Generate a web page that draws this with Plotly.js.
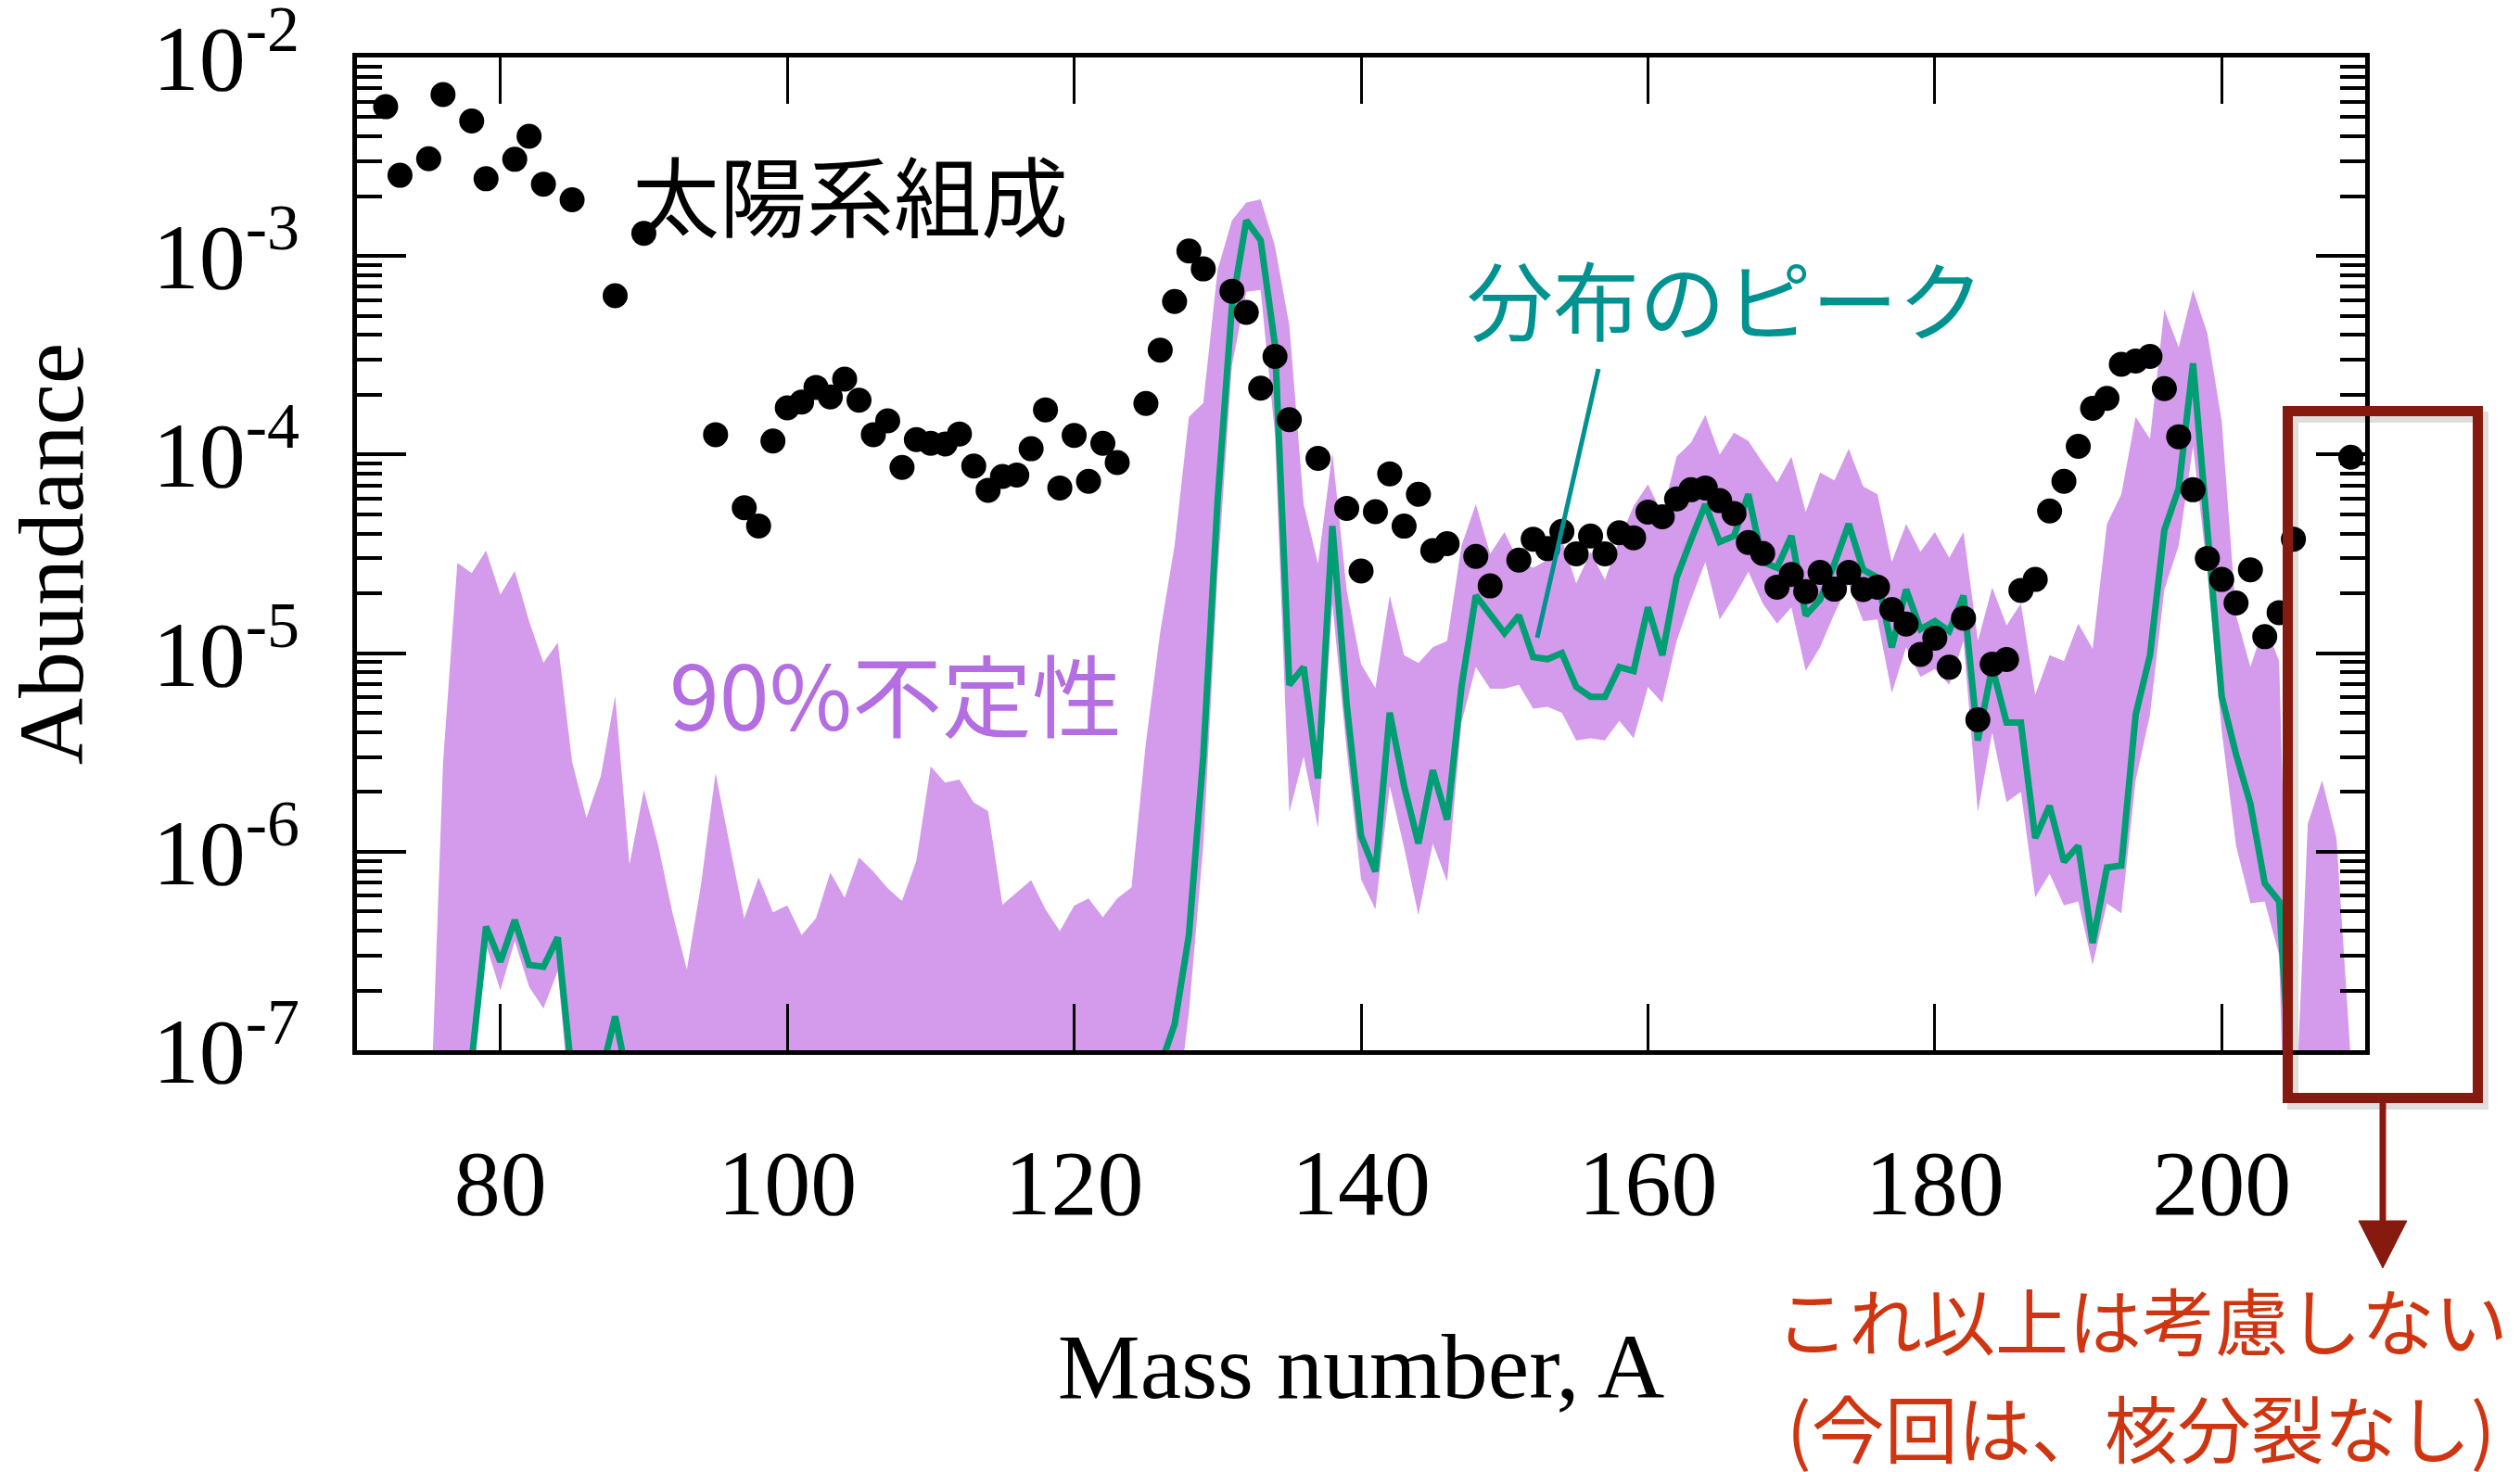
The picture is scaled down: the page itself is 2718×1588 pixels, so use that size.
<!DOCTYPE html>
<html>
<head>
<meta charset="utf-8">
<script src="https://cdn.plot.ly/plotly-3.0.1.min.js"></script>
<style>
html,body{margin:0;padding:0;background:#ffffff;}
#chart{width:2718px;height:1588px;}
</style>
</head>
<body>
<div id="chart"></div>
<script>
// ---------------- DATA ----------------
// Solar-system abundances (black dots)
const SOLAR_A = [72,73,75,76,78,79,81,82,83,85,88,90,95,97,98,99,100,101,102,103,104,105,106,107,108,109,110,111,112,113,114,115,116,117,118,119,120,121,122,123,125,126,127,128,129,131,132,133,134,135,137,139,140,141,142,143,144,145,146,148,149,151,152,153,154,155,156,157,158,159,160,161,162,163,164,165,166,167,168,169,170,171,172,173,174,175,176,177,178,179,180,181,182,183,184,185,186,187,188,189,190,191,192,193,194,195,196,197,198,199,200,201,202,203,204,205,209];
const SOLAR_Y = [5.65e-3,2.55e-3,3.09e-3,6.50e-3,4.79e-3,2.45e-3,3.07e-3,4.01e-3,2.30e-3,1.92e-3,6.31e-4,1.30e-3,1.26e-4,5.40e-5,4.37e-5,1.17e-4,1.72e-4,1.84e-4,2.18e-4,1.95e-4,2.40e-4,1.88e-4,1.26e-4,1.48e-4,8.61e-5,1.19e-4,1.14e-4,1.13e-4,1.27e-4,8.75e-5,6.61e-5,7.76e-5,7.89e-5,1.07e-4,1.68e-4,6.79e-5,1.25e-4,7.33e-5,1.14e-4,9.12e-5,1.81e-4,3.36e-4,5.90e-4,1.06e-3,8.61e-4,6.65e-4,5.20e-4,2.16e-4,3.12e-4,1.50e-4,9.57e-5,5.36e-5,2.59e-5,5.16e-5,8.00e-5,4.36e-5,6.31e-5,3.28e-5,3.56e-5,3.07e-5,2.18e-5,2.94e-5,3.75e-5,3.36e-5,4.10e-5,3.16e-5,3.89e-5,3.16e-5,4.04e-5,3.81e-5,5.13e-5,4.86e-5,5.98e-5,6.65e-5,6.79e-5,5.86e-5,5.05e-5,3.61e-5,3.18e-5,2.15e-5,2.49e-5,2.04e-5,2.55e-5,2.10e-5,2.55e-5,2.09e-5,2.15e-5,1.66e-5,1.40e-5,9.86e-6,1.19e-5,8.49e-6,1.50e-5,4.62e-6,8.81e-6,9.29e-6,2.07e-5,2.35e-5,5.20e-5,7.33e-5,1.10e-4,1.71e-4,1.92e-4,2.85e-4,2.96e-4,3.12e-4,2.15e-4,1.23e-4,6.65e-5,3.00e-5,2.35e-5,1.79e-5,2.63e-5,1.21e-5,1.60e-5,3.75e-5,9.70e-5];

// Mass numbers of the calculated distribution
const CALC_A = [75,76,77,78,79,80,81,82,83,84,85,86,87,88,89,90,91,92,93,94,95,96,97,98,99,100,101,102,103,104,105,106,107,108,109,110,111,112,113,114,115,116,117,118,119,120,121,122,123,124,125,126,127,128,129,130,131,132,133,134,135,136,137,138,139,140,141,142,143,144,145,146,147,148,149,150,151,152,153,154,155,156,157,158,159,160,161,162,163,164,165,166,167,168,169,170,171,172,173,174,175,176,177,178,179,180,181,182,183,184,185,186,187,188,189,190,191,192,193,194,195,196,197,198,199,200,201,202,203,204,205,206,207,208,209];

// 90% uncertainty band: upper edge
const BAND_UPPER = [2.5e-8,2.79e-6,2.85e-5,2.53e-5,3.28e-5,1.97e-5,2.59e-5,1.45e-5,8.95e-6,1.13e-5,2.83e-6,1.48e-6,2.40e-6,6.08e-6,8.61e-7,2.04e-6,1.08e-6,4.90e-7,2.55e-7,6.92e-7,2.49e-6,1.05e-6,4.62e-7,7.43e-7,4.95e-7,5.36e-7,3.80e-7,4.62e-7,7.85e-7,5.86e-7,9.35e-7,7.94e-7,6.55e-7,5.65e-7,9.02e-7,2.69e-6,2.23e-6,2.31e-6,1.77e-6,1.60e-6,5.41e-7,6.24e-7,7.19e-7,5.13e-7,3.98e-7,5.35e-7,5.82e-7,4.68e-7,5.82e-7,6.61e-7,3.55e-6,1.28e-5,3.48e-5,1.55e-4,1.82e-4,8.51e-4,1.51e-3,1.86e-3,1.93e-3,1.12e-3,4.47e-4,5.62e-5,2.82e-5,1.02e-4,2.07e-5,8.81e-6,6.68e-6,1.95e-5,9.77e-6,8.91e-6,1.07e-5,1.15e-5,3.47e-5,5.62e-5,3.16e-5,4.07e-5,2.88e-5,2.69e-5,2.95e-5,3.72e-5,2.24e-5,3.24e-5,2.34e-5,3.72e-5,5.50e-5,7.08e-5,5.01e-5,9.77e-5,1.15e-4,1.58e-4,1.00e-4,1.29e-4,1.17e-4,9.12e-5,7.24e-5,9.77e-5,5.13e-5,8.13e-5,7.41e-5,1.07e-4,6.92e-5,6.31e-5,2.88e-5,4.47e-5,3.24e-5,4.07e-5,3.02e-5,4.07e-5,1.15e-5,2.14e-5,1.38e-5,1.78e-5,6.17e-6,9.77e-6,9.12e-6,1.41e-5,1.05e-5,4.47e-5,6.31e-5,1.55e-4,1.20e-4,5.37e-4,3.47e-4,6.76e-4,4.07e-4,1.48e-4,1.55e-5,8.51e-6,1.41e-5,9.12e-6,2.5e-8,1.38e-6,2.29e-6,1.17e-6,8.9e-8];

// 90% uncertainty band: lower edge (1e-9 = below the plotted range)
const BAND_LOWER = [1e-9,1e-9,1e-9,5.89e-8,3.39e-7,2.0e-7,3.55e-7,2.09e-7,1.62e-7,2.51e-7,3.98e-8,1e-9,1e-9,1e-9,1e-9,1e-9,1e-9,1e-9,1e-9,1e-9,1e-9,1e-9,1e-9,1e-9,1e-9,1e-9,1e-9,1e-9,1e-9,1e-9,1e-9,1e-9,1e-9,1e-9,1e-9,1e-9,1e-9,1e-9,1e-9,1e-9,1e-9,1e-9,1e-9,1e-9,1e-9,1e-9,1e-9,1e-9,1e-9,1e-9,1e-9,1e-9,3.98e-8,1.55e-7,1.07e-6,2.51e-5,2.82e-4,6.61e-4,6.76e-4,1.26e-4,1.58e-6,3.02e-6,1.32e-6,1.78e-5,3.24e-6,7.24e-7,5.13e-7,2.14e-6,1.05e-6,4.79e-7,1.10e-6,7.08e-7,4.47e-6,8.51e-6,6.61e-6,6.61e-6,6.92e-6,5.25e-6,5.37e-6,5.01e-6,3.63e-6,3.72e-6,3.63e-6,4.57e-6,3.72e-6,6.76e-6,5.62e-6,1.15e-5,1.86e-5,2.88e-5,1.48e-5,1.91e-5,2.57e-5,1.78e-5,1.41e-5,1.70e-5,8.13e-6,1.07e-5,1.58e-5,2.24e-5,1.45e-5,1.48e-5,6.31e-6,1.07e-5,7.59e-6,8.32e-6,6.92e-6,1.15e-5,1.58e-6,3.98e-6,1.78e-6,2.0e-6,5.89e-7,7.76e-7,5.37e-7,5.62e-7,2.69e-7,5.50e-7,4.90e-7,2.29e-6,4.90e-6,2.09e-5,3.47e-5,1.10e-4,2.57e-5,4.07e-6,1.07e-6,5.50e-7,5.62e-7,3.02e-7,1e-9,1e-9,1e-9,1e-9,1e-9];

// Peak of the distribution (green line); null = not drawn
const PEAK = [null,null,null,8.9e-8,4.20e-7,2.79e-7,4.52e-7,2.69e-7,2.63e-7,3.70e-7,7.24e-8,null,7.41e-8,1.48e-7,6.46e-8,null,null,null,null,null,null,null,null,null,null,null,null,null,null,null,null,null,null,null,null,null,null,null,null,null,null,null,null,null,null,null,null,null,null,null,null,8.32e-8,1.35e-7,3.80e-7,3.02e-6,5.89e-5,5.62e-4,1.51e-3,1.20e-3,3.55e-4,6.92e-6,8.51e-6,2.34e-6,4.37e-5,5.50e-6,1.20e-6,7.94e-7,5.01e-6,2.14e-6,1.10e-6,2.57e-6,1.45e-6,6.76e-6,1.95e-5,1.58e-5,1.26e-5,1.55e-5,9.55e-6,9.33e-6,1.0e-5,6.76e-6,6.03e-6,6.03e-6,8.51e-6,8.13e-6,1.70e-5,9.77e-6,2.40e-5,3.72e-5,5.62e-5,3.63e-5,3.89e-5,6.31e-5,2.88e-5,2.69e-5,3.89e-5,1.55e-5,1.86e-5,2.82e-5,4.47e-5,2.63e-5,2.40e-5,1.07e-5,2.09e-5,1.32e-5,1.45e-5,1.29e-5,1.95e-5,3.63e-6,8.51e-6,4.47e-6,4.47e-6,1.17e-6,1.70e-6,8.91e-7,1.07e-6,3.47e-7,8.32e-7,8.51e-7,4.90e-6,9.77e-6,4.17e-5,6.76e-5,2.88e-4,4.17e-5,6.03e-6,3.09e-6,1.74e-6,6.92e-7,5.62e-7,3.98e-8,null,null,null,null];

// Axis ticks and labels
const X_TICKS = [80,100,120,140,160,180,200];
const Y_TICKS = [1e-7,1e-6,1e-5,1e-4,1e-3,1e-2];
const Y_TICK_TEXT = ['10<sup>-7</sup>','10<sup>-6</sup>','10<sup>-5</sup>','10<sup>-4</sup>','10<sup>-3</sup>','10<sup>-2</sup>'];

// Text labels
const X_TITLE = 'Mass number, A';
const Y_TITLE = 'Abundance';
const LABEL_SOLAR = '太陽系組成';
const LABEL_PEAK = '分布のピーク';
const LABEL_BAND = '90%不定性';
const NOTE_LINE1 = 'これ以上は考慮しない';
const NOTE_LINE2 = '(今回は、核分裂なし)';

// ---------------- LAYOUT ----------------
const W = 2718, H = 1588;
const L = 385, R = 2551, T = 62, B = 1133;
const PW = R - L, PH = B - T;
function px(x){ return (x - L) / PW; }
function py(y){ return (B - y) / PH; }

const minorY = [];
for (let e = -7; e < -2; e++) {
  for (let m = 2; m <= 9; m++) minorY.push(m * Math.pow(10, e));
}

const COL_BAND = '#D49AEC';
const COL_BAND_TXT = '#B46EE1';
const COL_PEAK = '#009E73';
const COL_TEAL = '#009290';
const COL_BOX = '#861A0E';
const COL_NOTE = '#CF3510';
const JP = 'Noto Sans CJK JP, sans-serif';
const SERIF = 'Liberation Serif, Times New Roman, serif';

const traces = [
  { x: CALC_A, y: BAND_LOWER, type: 'scatter', mode: 'lines',
    line: { width: 0, color: COL_BAND }, hoverinfo: 'skip', showlegend: false },
  { x: CALC_A, y: BAND_UPPER, type: 'scatter', mode: 'lines', fill: 'tonexty',
    fillcolor: COL_BAND, line: { width: 0, color: COL_BAND }, showlegend: false },
  { x: CALC_A, y: PEAK, type: 'scatter', mode: 'lines', connectgaps: false,
    line: { width: 7, color: COL_PEAK }, showlegend: false },
  { x: SOLAR_A, y: SOLAR_Y, type: 'scatter', mode: 'markers',
    marker: { size: 27, color: '#000000' }, cliponaxis: true, showlegend: false }
];

const layout = {
  width: W, height: H,
  margin: { l: L, r: W - R, t: T, b: H - B, pad: 0 },
  paper_bgcolor: '#ffffff', plot_bgcolor: '#ffffff',
  showlegend: false,
  font: { family: SERIF, color: '#000000' },
  xaxis: {
    range: [70, 210], tickmode: 'array', tickvals: X_TICKS,
    ticks: 'inside', ticklen: 50, tickwidth: 3, tickcolor: '#000',
    showline: true, linewidth: 5, linecolor: '#000', mirror: 'ticks',
    showgrid: false, zeroline: false,
    tickfont: { family: SERIF, size: 100, color: '#000' },
    ticklabelstandoff: 52, ticklabeloverflow: 'allow',
    title: { text: X_TITLE, font: { family: SERIF, size: 100, color: '#000' }, standoff: 108 }
  },
  yaxis: {
    type: 'log', range: [-7, -2], tickmode: 'array', tickvals: Y_TICKS, ticktext: Y_TICK_TEXT,
    ticks: 'inside', ticklen: 53, tickwidth: 4, tickcolor: '#000',
    minor: { tickmode: 'array', tickvals: minorY, ticks: 'inside', ticklen: 27, tickwidth: 4, tickcolor: '#000', showgrid: false },
    showline: true, linewidth: 5, linecolor: '#000', mirror: 'ticks',
    showgrid: false, zeroline: false,
    tickfont: { family: SERIF, size: 100, color: '#000' },
    ticklabelstandoff: 37, ticklabeloverflow: 'allow',
    title: { text: Y_TITLE, font: { family: SERIF, size: 100, color: '#000' }, standoff: 60 }
  },
  annotations: [
    { xref: 'paper', yref: 'paper', x: px(917), y: py(208), text: LABEL_SOLAR, showarrow: false,
      xanchor: 'center', yanchor: 'middle', font: { family: JP, size: 94, color: '#000' } },
    { xref: 'paper', yref: 'paper', x: px(1861), y: py(320), text: LABEL_PEAK, showarrow: false,
      xanchor: 'center', yanchor: 'middle', font: { family: JP, size: 93, color: COL_TEAL } },
    { xref: 'paper', yref: 'paper', x: px(966), y: py(745), text: LABEL_BAND, showarrow: false,
      xanchor: 'center', yanchor: 'middle', font: { family: JP, size: 97, color: COL_BAND_TXT } },
    { xref: 'paper', yref: 'paper', x: px(2310), y: py(1422), text: NOTE_LINE1, showarrow: false,
      xanchor: 'center', yanchor: 'middle', font: { family: JP, size: 79, color: COL_NOTE } },
    { xref: 'paper', yref: 'paper', x: px(2309), y: py(1538), text: NOTE_LINE2, showarrow: false,
      xanchor: 'center', yanchor: 'middle', font: { family: JP, size: 79, color: COL_NOTE } }
  ],
  shapes: [
    // pointer line for the peak label
    { type: 'line', xref: 'paper', yref: 'paper', x0: px(1724), y0: py(398), x1: px(1658), y1: py(688),
      line: { color: COL_TEAL, width: 5 }, layer: 'above' },
    // box shadow
    { type: 'rect', xref: 'paper', yref: 'paper', x0: px(2473), y0: py(450), x1: px(2678), y1: py(1191),
      line: { color: 'rgba(0,0,0,0.13)', width: 12 }, fillcolor: 'rgba(0,0,0,0)', layer: 'above' },
    // red box
    { type: 'rect', xref: 'paper', yref: 'paper', x0: px(2467.5), y0: py(443.5), x1: px(2672.5), y1: py(1184.5),
      line: { color: COL_BOX, width: 11 }, fillcolor: 'rgba(0,0,0,0)', layer: 'above' },
    // arrow shaft
    { type: 'line', xref: 'paper', yref: 'paper', x0: px(2570), y0: py(1190), x1: px(2570), y1: py(1322),
      line: { color: COL_BOX, width: 7 }, layer: 'above' },
    // arrow head
    { type: 'path', xref: 'paper', yref: 'paper',
      path: 'M ' + px(2544) + ' ' + py(1317) + ' L ' + px(2596) + ' ' + py(1317) + ' L ' + px(2570) + ' ' + py(1368) + ' Z',
      fillcolor: COL_BOX, line: { color: COL_BOX, width: 1 }, layer: 'above' }
  ]
};

Plotly.newPlot('chart', traces, layout, { displayModeBar: false, staticPlot: true });
</script>
</body>
</html>
